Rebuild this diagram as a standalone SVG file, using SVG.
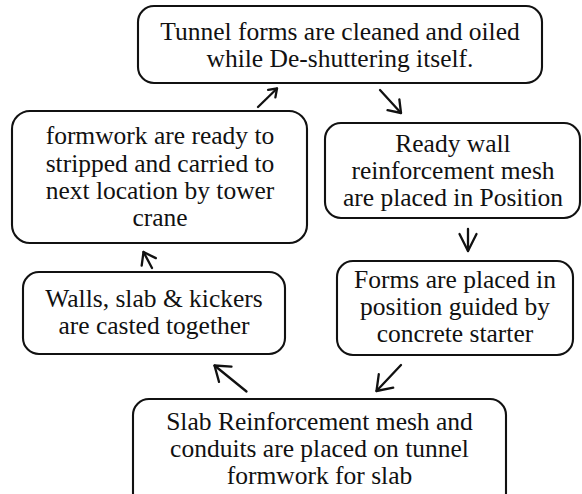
<svg xmlns="http://www.w3.org/2000/svg" width="582" height="494" viewBox="0 0 582 494">
<style>
.box{fill:#fff;stroke:#111;stroke-width:2.1}
.lbl{font-size:25.5px;fill:#111;text-anchor:middle}
.arr{fill:none;stroke:#111;stroke-width:2.3;stroke-linecap:round}
.hd{fill:none;stroke:#111;stroke-linecap:round;stroke-linejoin:round}
</style>
<defs>
<marker id="hs" viewBox="0 0 10 10" refX="9" refY="5" markerWidth="10.5" markerHeight="10.5" markerUnits="userSpaceOnUse" orient="auto" overflow="visible">
<path class="hd" d="M2,0 L9,5 L2,10" stroke-width="2.2"/>
</marker>
<marker id="hm" viewBox="0 0 10 10" refX="9" refY="5" markerWidth="16" markerHeight="16" markerUnits="userSpaceOnUse" orient="auto" overflow="visible">
<path class="hd" d="M2,0 L9,5 L2,10" stroke-width="1.45"/>
</marker>
<marker id="hl" viewBox="0 0 10 10" refX="9" refY="5" markerWidth="19.8" markerHeight="19.8" markerUnits="userSpaceOnUse" orient="auto" overflow="visible">
<path class="hd" d="M2,0 L9,5 L2,10" stroke-width="1.16"/>
</marker>
<marker id="hn" viewBox="0 0 10 10" refX="9" refY="5" markerWidth="18.9" markerHeight="18.9" markerUnits="userSpaceOnUse" orient="auto" overflow="visible">
<path class="hd" d="M0,0.5 L9,5 L0,9.5" stroke-width="1.22"/>
</marker>
</defs>
<rect width="582" height="494" fill="#fff"/>
<g font-family="'Liberation Serif', 'Times New Roman', serif">
<g id="n1">
<rect class="box" x="138" y="6" width="404" height="77" rx="16"/>
<text class="lbl" x="340" y="40">Tunnel forms are cleaned and oiled</text>
<text class="lbl" x="340" y="67">while De-shuttering itself.</text>
</g>
<g id="n2">
<rect class="box" x="325" y="123" width="255" height="95" rx="16"/>
<text class="lbl" x="453" y="152">Ready wall</text>
<text class="lbl" x="453" y="179">reinforcement mesh</text>
<text class="lbl" x="453" y="206">are placed in Position</text>
</g>
<g id="n3">
<rect class="box" x="337" y="261" width="236" height="94" rx="16"/>
<text class="lbl" x="455" y="288">Forms are placed in</text>
<text class="lbl" x="455" y="315">position guided by</text>
<text class="lbl" x="455" y="342">concrete starter</text>
</g>
<g id="n4">
<rect class="box" x="133" y="399" width="373" height="110" rx="16"/>
<text class="lbl" x="319.5" y="430">Slab Reinforcement mesh and</text>
<text class="lbl" x="319.5" y="457">conduits are placed on tunnel</text>
<text class="lbl" x="319.5" y="484">formwork for slab</text>
</g>
<g id="n5">
<rect class="box" x="23" y="272" width="262" height="82" rx="16"/>
<text class="lbl" x="154" y="307">Walls, slab &amp; kickers</text>
<text class="lbl" x="154" y="334">are casted together</text>
</g>
<g id="n6">
<rect class="box" x="12" y="111" width="295" height="132" rx="18"/>
<text class="lbl" x="160" y="144">formwork are ready to</text>
<text class="lbl" x="160" y="172">stripped and carried to</text>
<text class="lbl" x="160" y="199">next location by tower</text>
<text class="lbl" x="160" y="226">crane</text>
</g>
</g>
<g id="connectors">
<path class="arr" d="M258,107 L277,88.5" marker-end="url(#hs)"/>
<path class="arr" d="M380,90 L401,113" marker-end="url(#hm)"/>
<path class="arr" d="M468,229 L468,251" marker-end="url(#hn)"/>
<path class="arr" d="M401,365 L376.5,391" marker-end="url(#hl)"/>
<path class="arr" d="M246.5,391.5 L214.5,365.5" marker-end="url(#hl)"/>
<path class="arr" d="M152,268 L143.5,252" marker-end="url(#hm)"/>
</g>
</svg>
